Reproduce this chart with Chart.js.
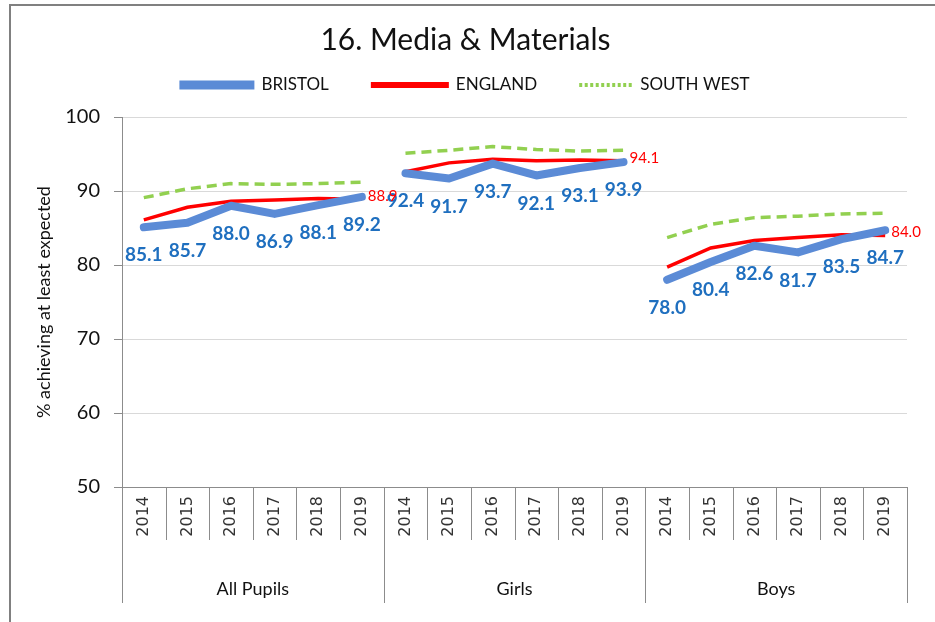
<!DOCTYPE html>
<html>
<head>
<meta charset="utf-8">
<script src="https://cdn.jsdelivr.net/npm/chart.js@4.4.1/dist/chart.umd.min.js"></script>
<style>
  html, body { margin: 0; padding: 0; background: #fff; }
  #frame { position: absolute; left: 9px; top: 4px; width: 940px; height: 640px;
           border-left: 2px solid #808080; border-top: 2px solid #808080; }
  #wrap { position: absolute; left: 0; top: 0; width: 935px; height: 622px; }
</style>
</head>
<body>
<div id="frame"></div>
<div id="wrap"><canvas id="chart"></canvas></div>
<script>
const groups = ['All Pupils', 'Girls', 'Boys'];
const years = ['2014', '2015', '2016', '2017', '2018', '2019'];
const bristol = [85.1, 85.7, 88.0, 86.9, 88.1, 89.2,
                 92.4, 91.7, 93.7, 92.1, 93.1, 93.9,
                 78.0, 80.4, 82.6, 81.7, 83.5, 84.7];
const england = [86.1, 87.8, 88.6, 88.8, 89.0, 88.9,
                 92.6, 93.8, 94.3, 94.1, 94.2, 94.1,
                 79.7, 82.3, 83.3, 83.7, 84.1, 84.0];
const southWest = [89.1, 90.3, 91.0, 90.9, 91.0, 91.2,
                   95.1, 95.5, 96.0, 95.6, 95.4, 95.5,
                   83.7, 85.5, 86.4, 86.6, 86.9, 87.0];
const yTicks = [50, 60, 70, 80, 90, 100];

const labels = groups.flatMap(() => years);

// break the line between groups
function segColor(color) {
  return ctx => (ctx.p0DataIndex % years.length === years.length - 1 ? 'rgba(0,0,0,0)' : color);
}

// value labels: all Bristol points, last England point of each group
const valueLabels = {
  id: 'valueLabels',
  afterDatasetsDraw(chart) {
    const ctx = chart.ctx;
    ctx.save();
    ctx.textBaseline = 'middle';
    ctx.font = 'bold 19px Lato';
    ctx.fillStyle = '#1F6FBF';
    ctx.textAlign = 'center';
    chart.getDatasetMeta(0).data.forEach((pt, i) => {
      ctx.fillText(bristol[i].toFixed(1), pt.x, pt.y + 28);
    });
    ctx.font = '15px Lato';
    ctx.fillStyle = '#FF0000';
    ctx.textAlign = 'left';
    chart.getDatasetMeta(1).data.forEach((pt, i) => {
      if (i % years.length === years.length - 1) ctx.fillText(england[i].toFixed(1), pt.x + 6, pt.y - 3);
    });
    ctx.restore();
  }
};

// second level of the category axis: cell lines and group names
const groupAxis = {
  id: 'groupAxis',
  afterDraw(chart) {
    const ctx = chart.ctx;
    const x = chart.scales.x;
    const n = labels.length;
    const step = x.getPixelForValue(1) - x.getPixelForValue(0);
    const top = x.top;
    ctx.save();
    ctx.strokeStyle = '#8c8c8c';
    ctx.lineWidth = 1;
    for (let i = 0; i <= n; i++) {
      const px = Math.round(x.getPixelForValue(0) - step / 2 + i * step) + 0.5;
      const bottom = i % years.length === 0 ? x.bottom : top + 53;
      ctx.beginPath();
      ctx.moveTo(px, top);
      ctx.lineTo(px, bottom);
      ctx.stroke();
    }
    ctx.font = '18px Lato';
    ctx.fillStyle = '#111';
    ctx.textAlign = 'center';
    ctx.textBaseline = 'middle';
    groups.forEach((g, k) => {
      const a = x.getPixelForValue(k * years.length);
      const b = x.getPixelForValue(k * years.length + years.length - 1);
      ctx.fillText(g, (a + b) / 2, x.bottom - 14);
    });
    ctx.restore();
  }
};

// legend row under the title, line samples like the series
const lineLegend = {
  id: 'lineLegend',
  afterDraw(chart) {
    const ctx = chart.ctx;
    const sets = chart.data.datasets;
    const gap = 7, spacing = 42, y = 85;
    ctx.save();
    ctx.font = '17px Lato';
    const widths = sets.map(ds => ds.legendLength + gap + ctx.measureText(ds.label).width);
    let x = (chart.width - widths.reduce((a, b) => a + b, 0) - spacing * (sets.length - 1)) / 2 - 3;
    ctx.textAlign = 'left';
    ctx.textBaseline = 'middle';
    sets.forEach((ds, i) => {
      ctx.strokeStyle = ds.borderColor;
      ctx.lineWidth = ds.legendWidth;
      ctx.setLineDash(ds.legendDash);
      ctx.beginPath();
      ctx.moveTo(x, y);
      ctx.lineTo(x + ds.legendLength, y);
      ctx.stroke();
      ctx.setLineDash([]);
      ctx.fillStyle = '#111';
      ctx.fillText(ds.label, x + ds.legendLength + gap, y);
      x += widths[i] + spacing;
    });
    ctx.restore();
  }
};

const ctx = document.getElementById('chart').getContext('2d');
const chart = new Chart(ctx, {
  type: 'line',
  data: {
    labels: labels,
    datasets: [{
      label: 'BRISTOL',
      data: bristol,
      borderColor: '#5B8BD6',
      borderWidth: 8,
      borderCapStyle: 'round',
      borderJoinStyle: 'round',
      pointRadius: 0,
      segment: { borderColor: segColor('#5B8BD6') },
      legendLength: 75,
      legendWidth: 9,
      legendDash: []
    }, {
      label: 'ENGLAND',
      data: england,
      borderColor: '#FF0000',
      borderWidth: 3.5,
      pointRadius: 0,
      segment: { borderColor: segColor('#FF0000') },
      legendLength: 78,
      legendWidth: 6,
      legendDash: []
    }, {
      label: 'SOUTH WEST',
      data: southWest,
      borderColor: '#92D050',
      borderWidth: 3.5,
      borderDash: [10, 6],
      pointRadius: 0,
      segment: { borderColor: segColor('#92D050') },
      legendLength: 54,
      legendWidth: 4,
      legendDash: [3, 2.5]
    }]
  },
  options: {
    responsive: true,
    maintainAspectRatio: false,
    animation: false,
    layout: { padding: { left: 24, right: 28, top: 0, bottom: 19 } },
    plugins: {
      title: {
        display: true,
        text: '16. Media & Materials',
        color: '#111',
        font: { family: 'Lato', size: 30, weight: 'normal' },
        padding: { top: 22, bottom: 59 }
      },
      legend: { display: false },
      tooltip: { enabled: false }
    },
    scales: {
      x: {
        offset: true,
        grid: { display: false, drawTicks: false },
        border: { display: true, color: '#8c8c8c', width: 1 },
        ticks: {
          autoSkip: false,
          minRotation: 90,
          maxRotation: 90,
          padding: 9,
          color: '#333',
          font: { family: 'DejaVu Sans', size: 16 }
        },
        afterFit(scale) { scale.height = 116; }
      },
      y: {
        min: 50,
        max: 100,
        afterBuildTicks(scale) { scale.ticks = yTicks.map(v => ({ value: v })); },
        ticks: { color: '#111', padding: 14, font: { family: 'Lato', size: 20 } },
        grid: { color: '#d9d9d9', tickColor: '#8c8c8c', tickLength: 8 },
        border: { color: '#8c8c8c' },
        title: {
          display: true,
          text: '% achieving at least expected',
          color: '#111',
          font: { family: 'Lato', size: 18 },
          padding: { top: 9, bottom: 0 }
        },
        afterFit(scale) { scale.width = 122 - 24; }
      }
    }
  },
  plugins: [valueLabels, groupAxis, lineLegend]
});
</script>
</body>
</html>
